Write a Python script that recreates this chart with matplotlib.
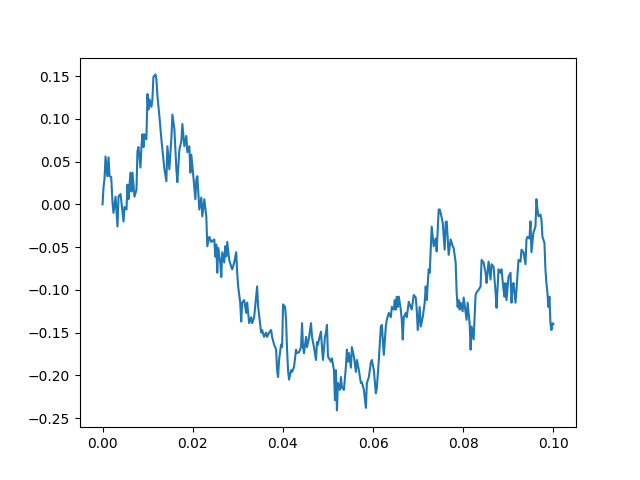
import numpy as np
import matplotlib
matplotlib.use("Agg")
import matplotlib.pyplot as plt

# time in units of 1e-3
t_milli = [0.00, 0.22, 0.44, 0.66, 1.04, 1.33, 1.55, 1.92, 2.21, 2.43,
           2.88, 3.32, 3.54, 3.98, 4.20, 4.65, 4.87, 5.31, 5.53, 5.75,
           6.19, 6.42, 6.64, 7.08, 7.52, 7.74, 7.96, 8.41, 8.63, 8.85,
           9.07, 9.29, 9.73, 9.96, 10.18, 10.40, 10.84, 11.06, 11.28, 11.73,
           11.95, 12.17, 12.61, 13.05, 13.72, 14.16, 14.38, 14.82, 15.27, 15.49,
           15.93, 16.37, 16.59, 17.04, 17.48, 17.70, 18.14, 18.58, 18.81, 19.25,
           19.47, 19.69, 20.13, 20.58, 20.80, 21.02, 21.46, 21.90, 22.12, 22.57,
           23.01, 23.23, 23.67, 24.12, 24.78, 25.00, 25.22, 25.44, 25.66, 26.10,
           26.33, 26.55, 26.99, 27.21, 27.43, 27.65, 28.09, 28.54, 28.76, 29.20,
           29.64, 29.86, 30.08, 30.53, 30.75, 30.97, 31.41, 31.85, 32.07, 32.52,
           32.96, 33.18, 33.62, 34.06, 34.28, 34.51, 35.17, 35.39, 35.83, 36.27,
           36.50, 36.94, 37.38, 37.60, 38.05, 38.49, 38.71, 38.93, 39.15, 39.59,
           39.82, 40.04, 40.48, 40.70, 40.92, 41.14, 41.36, 41.81, 42.03, 42.47,
           42.91, 43.13, 43.58, 44.02, 44.24, 44.46, 44.68, 45.13, 45.35, 45.79,
           46.23, 46.45, 46.89, 47.34, 47.56, 47.78, 48.00, 48.44, 48.66, 48.89,
           49.33, 49.55, 49.77, 49.99, 50.65, 50.88, 51.32, 51.54, 51.76, 51.98,
           52.20, 52.65, 52.87, 53.09, 53.53, 53.97, 54.19, 54.42, 54.64, 55.08,
           55.30, 55.74, 56.19, 56.41, 56.85, 57.29, 57.51, 57.96, 58.40, 58.62,
           59.06, 59.50, 59.73, 60.17, 60.61, 60.83, 61.27, 61.72, 61.94, 62.38,
           62.82, 63.04, 63.49, 63.93, 64.15, 64.59, 64.81, 65.03, 65.26, 65.48,
           65.70, 66.14, 66.36, 66.58, 66.80, 67.25, 67.47, 67.91, 68.35, 68.57,
           69.02, 69.46, 69.68, 69.90, 70.34, 70.57, 71.01, 71.45, 71.67, 71.89,
           72.33, 72.56, 72.78, 73.00, 73.44, 73.88, 74.10, 74.55, 74.77, 74.99,
           75.43, 75.87, 76.10, 76.32, 76.76, 77.20, 77.65, 77.87, 78.31, 78.53,
           78.75, 78.97, 79.19, 79.42, 79.86, 80.08, 80.52, 80.74, 80.96, 81.41,
           81.63, 81.85, 82.29, 82.73, 82.96, 83.40, 83.84, 84.06, 84.50, 84.95,
           85.17, 85.61, 86.05, 86.27, 86.72, 87.16, 87.38, 87.82, 88.26, 88.48,
           88.93, 89.15, 89.37, 89.59, 90.03, 90.48, 90.70, 90.92, 91.14, 91.58,
           91.80, 92.25, 92.69, 92.91, 93.35, 93.79, 94.02, 94.24, 94.68, 94.90,
           95.12, 95.56, 96.01, 96.23, 96.45, 96.67, 97.11, 97.34, 97.56, 98.00,
           98.22, 98.44, 98.66, 98.88, 99.11, 99.33, 99.55, 99.77, 100.00]

walk = [0.000, 0.020, 0.030, 0.056, 0.033, 0.055, 0.033, 0.032, 0.002, -0.010,
        0.009, -0.026, 0.009, 0.012, 0.002, -0.020, -0.003, -0.006, 0.023, 0.006,
        0.037, 0.015, 0.037, 0.009, 0.017, 0.062, 0.067, 0.043, 0.068, 0.082,
        0.067, 0.082, 0.076, 0.129, 0.111, 0.123, 0.114, 0.123, 0.149, 0.152,
        0.146, 0.127, 0.103, 0.076, 0.041, 0.027, 0.068, 0.041, 0.078, 0.105,
        0.088, 0.041, 0.026, 0.064, 0.074, 0.094, 0.068, 0.080, 0.061, 0.068,
        0.037, 0.058, 0.033, 0.006, 0.029, 0.033, -0.006, 0.008, -0.014, 0.006,
        -0.014, -0.049, -0.038, -0.044, -0.041, -0.061, -0.047, -0.080, -0.051, -0.068,
        -0.085, -0.056, -0.068, -0.049, -0.061, -0.044, -0.065, -0.073, -0.076, -0.068,
        -0.056, -0.080, -0.096, -0.115, -0.137, -0.115, -0.112, -0.127, -0.115, -0.139,
        -0.132, -0.139, -0.132, -0.108, -0.096, -0.120, -0.150, -0.147, -0.155, -0.150,
        -0.155, -0.150, -0.147, -0.155, -0.164, -0.170, -0.194, -0.202, -0.182, -0.164,
        -0.167, -0.117, -0.120, -0.135, -0.170, -0.194, -0.205, -0.194, -0.196, -0.190,
        -0.170, -0.174, -0.173, -0.167, -0.139, -0.167, -0.174, -0.155, -0.167, -0.156,
        -0.139, -0.155, -0.167, -0.182, -0.161, -0.164, -0.158, -0.149, -0.167, -0.182,
        -0.155, -0.150, -0.141, -0.178, -0.184, -0.180, -0.194, -0.229, -0.194, -0.241,
        -0.209, -0.217, -0.202, -0.214, -0.217, -0.190, -0.170, -0.184, -0.174, -0.191,
        -0.167, -0.178, -0.196, -0.182, -0.194, -0.209, -0.208, -0.217, -0.238, -0.209,
        -0.202, -0.185, -0.182, -0.194, -0.221, -0.215, -0.182, -0.143, -0.141, -0.176,
        -0.143, -0.135, -0.127, -0.132, -0.120, -0.123, -0.112, -0.123, -0.108, -0.120,
        -0.108, -0.123, -0.135, -0.158, -0.132, -0.127, -0.132, -0.114, -0.120, -0.123,
        -0.106, -0.109, -0.123, -0.147, -0.120, -0.143, -0.132, -0.115, -0.096, -0.112,
        -0.076, -0.080, -0.053, -0.026, -0.049, -0.040, -0.055, -0.006, -0.006, -0.010,
        -0.021, -0.053, -0.021, -0.020, -0.059, -0.041, -0.049, -0.051, -0.068, -0.103,
        -0.120, -0.112, -0.123, -0.115, -0.125, -0.109, -0.127, -0.135, -0.115, -0.139,
        -0.170, -0.143, -0.158, -0.106, -0.103, -0.100, -0.096, -0.065, -0.068, -0.080,
        -0.092, -0.067, -0.088, -0.070, -0.073, -0.103, -0.121, -0.076, -0.080, -0.076,
        -0.100, -0.108, -0.092, -0.112, -0.085, -0.080, -0.115, -0.096, -0.092, -0.115,
        -0.100, -0.065, -0.067, -0.053, -0.056, -0.070, -0.041, -0.038, -0.040, -0.020,
        -0.056, -0.033, -0.026, 0.006, -0.006, -0.014, -0.012, -0.018, -0.038, -0.045,
        -0.076, -0.092, -0.103, -0.120, -0.108, -0.139, -0.147, -0.139, -0.140]

t = np.array(t_milli) / 1000.0

fig, ax = plt.subplots(figsize=(6.4, 4.8), dpi=100)
ax.plot(t, walk)
fig.savefig("out.png")
